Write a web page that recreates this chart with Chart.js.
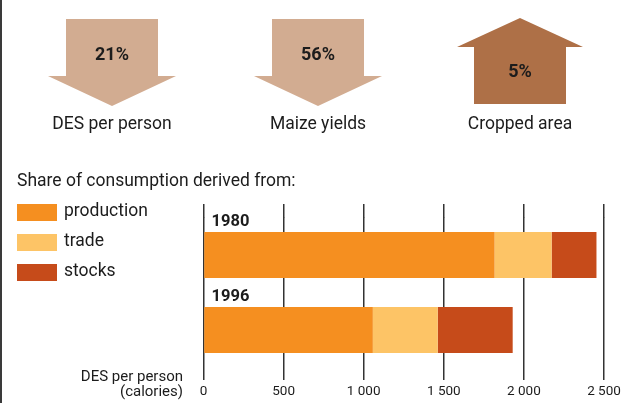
<!DOCTYPE html>
<html>
<head>
<meta charset="utf-8">
<title>Share of consumption</title>
<script src="https://cdn.jsdelivr.net/npm/chart.js@4.4.1/dist/chart.umd.min.js"></script>
<style>
  html, body { margin: 0; padding: 0; background: #fff; }
  #wrap { position: relative; width: 621px; height: 403px; }
  #edge { position: absolute; left: 0; top: 0; width: 2px; height: 403px; background: #3a3a3a; }
</style>
</head>
<body>
<div id="wrap">
  <canvas id="chart" width="621" height="403"></canvas>
  <div id="edge"></div>
</div>
<script>
// years (one bar each)
const years = ["1980", "1996"];
// DES per person (calories) by source
const production = [1817, 1057];
const trade = [356, 405];
const stocks = [280, 468];
const seriesNames = ["production", "trade", "stocks"];
const seriesColors = ["#f58f20", "#fdc466", "#c64b1a"];
const xTicks = [0, 500, 1000, 1500, 2000, 2500];

// change indicators above the chart
const changes = [-21, -56, 5];
const changeLabels = ["DES per person", "Maize yields", "Cropped area"];

const FONT = "Roboto, 'Liberation Sans', sans-serif";
const INK = "#1c1c1c";

function fmt(v) {
  return String(v).replace(/\B(?=(\d{3})+(?!\d))/g, " ");
}

// draw one arrow, down for a fall and up for a rise
function arrow(ctx, cx, value) {
  ctx.beginPath();
  if (value < 0) {
    ctx.moveTo(cx - 46, 19);
    ctx.lineTo(cx + 46, 19);
    ctx.lineTo(cx + 46, 76);
    ctx.lineTo(cx + 64, 76);
    ctx.lineTo(cx, 106);
    ctx.lineTo(cx - 64, 76);
    ctx.lineTo(cx - 46, 76);
    ctx.fillStyle = "#d2ac91";
  } else {
    ctx.moveTo(cx, 18);
    ctx.lineTo(cx + 63, 47);
    ctx.lineTo(cx + 46, 47);
    ctx.lineTo(cx + 46, 104);
    ctx.lineTo(cx - 46, 104);
    ctx.lineTo(cx - 46, 47);
    ctx.lineTo(cx - 63, 47);
    ctx.fillStyle = "#ae7047";
  }
  ctx.closePath();
  ctx.fill();
  ctx.fillStyle = INK;
  ctx.font = "bold 18px " + FONT;
  ctx.textAlign = "center";
  ctx.textBaseline = "middle";
  ctx.fillText(Math.abs(value) + "%", cx, value < 0 ? 55 : 72);
}

const annotPlugin = {
  id: "annot",
  afterDraw(chart) {
    const ctx = chart.ctx;
    ctx.save();

    // arrows and their captions
    const centers = [112, 318, 520];
    changes.forEach((v, i) => {
      arrow(ctx, centers[i], v);
      ctx.font = "17.5px " + FONT;
      ctx.fillStyle = INK;
      ctx.textAlign = "center";
      ctx.textBaseline = "middle";
      ctx.fillText(changeLabels[i], centers[i], 125);
    });

    // heading and legend
    ctx.textAlign = "left";
    ctx.textBaseline = "middle";
    ctx.font = "17.5px " + FONT;
    ctx.fillText("Share of consumption derived from:", 17, 182);
    chart.data.datasets.forEach((ds, i) => {
      ctx.fillStyle = ds.backgroundColor;
      ctx.fillRect(17, 204 + 30 * i, 40, 17);
      ctx.fillStyle = INK;
      ctx.fillText(ds.label, 64, 212 + 30 * i);
    });

    // year above each bar
    ctx.font = "bold 16.5px " + FONT;
    const bars = chart.getDatasetMeta(0).data;
    bars.forEach((bar, i) => {
      ctx.fillText(chart.data.labels[i], chart.chartArea.left + 8, bar.y - bar.height / 2 - 10);
    });

    // axis caption
    ctx.font = "15px " + FONT;
    ctx.textAlign = "right";
    ctx.fillText("DES per person", 183, 377);
    ctx.fillText("(calories)", 183, 392);

    ctx.restore();
  }
};

const gridStyle = { color: "#333", lineWidth: 1.5 };

function noPad(s) {
  s.paddingLeft = 0;
  s.paddingRight = 0;
}

new Chart(document.getElementById("chart"), {
  type: "bar",
  data: {
    labels: years,
    datasets: [production, trade, stocks].map((d, i) => ({
      label: seriesNames[i],
      data: d,
      backgroundColor: seriesColors[i],
      borderWidth: 0,
      categoryPercentage: 1,
      barPercentage: 0.613
    }))
  },
  options: {
    indexAxis: "y",
    responsive: false,
    animation: false,
    events: [],
    layout: { padding: { left: 203.5, right: 17, top: 204, bottom: 0 } },
    plugins: { legend: { display: false }, tooltip: { enabled: false } },
    scales: {
      y: { type: "category", stacked: true, display: false },
      x: {
        type: "linear",
        stacked: true,
        min: 0,
        max: 2500,
        position: "bottom",
        afterBuildTicks: s => { s.ticks = xTicks.map(v => ({ value: v })); },
        afterFit: s => { s.height = 35.5; noPad(s); },
        border: { display: false },
        grid: { ...gridStyle, drawTicks: true, tickLength: 12.5 },
        ticks: {
          padding: 4,
          maxRotation: 0,
          autoSkip: false,
          color: INK,
          font: { family: FONT, size: 13.5 },
          callback: v => fmt(v)
        }
      },
      x2: {
        type: "linear",
        min: 0,
        max: 2500,
        position: "top",
        afterBuildTicks: s => { s.ticks = xTicks.map(v => ({ value: v })); },
        afterFit: s => { s.height = 13.5; noPad(s); },
        border: { display: false },
        grid: { ...gridStyle, drawOnChartArea: false, drawTicks: true, tickLength: 13.5 },
        ticks: { display: false }
      }
    }
  },
  plugins: [annotPlugin]
});
</script>
</body>
</html>
